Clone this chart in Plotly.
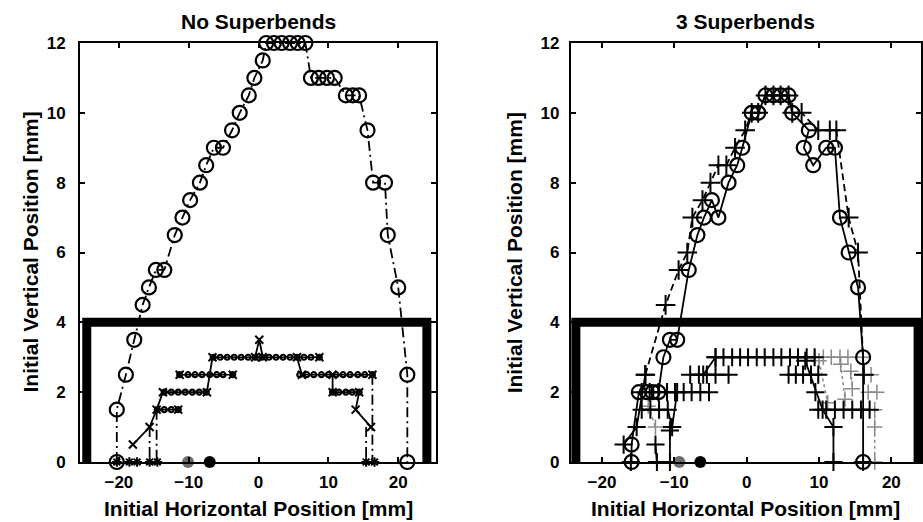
import plotly.graph_objects as go

# ---------------- data: left panel "No Superbends" ----------------
L_ARCH_X = [-20.3, -20.3, -19.0, -17.8, -16.6, -15.7, -14.7, -13.5, -12.0, -10.9,
            -9.8, -8.4, -7.5, -6.4, -5.1, -3.8, -2.7, -1.4, -0.6, 0.6,
            1.1, 2.2, 3.3, 4.5, 5.6, 6.7, 7.5, 8.6, 9.8, 10.9,
            12.5, 13.5, 14.4, 15.6, 16.4, 18.1, 18.5, 20.0, 21.3, 21.3]
L_ARCH_Y = [0, 1.5, 2.5, 3.5, 4.5, 5.0, 5.5, 5.5, 6.5, 7.0,
            7.5, 8.0, 8.5, 9.0, 9.0, 9.5, 10.0, 10.5, 11.0, 11.5,
            12, 12, 12, 12, 12, 12, 11, 11, 11, 11,
            10.5, 10.5, 10.5, 9.5, 8.0, 8.0, 6.5, 5.0, 2.5, 0]

# rows of small circles (None separates rows)
L_ROW_X = [-14.5, -13.5, -12.5, -11.5, None,
           -13.5, -12.5, -11.5, -10.5, -9.5, -8.5, -7.5, None,
           -11.3, -10.1, -9.1, -8.1, -7.0, -6.0, -5.1, -3.7, None,
           -6.5, -5.5, -4.5, -3.5, -2.5, -1.5, -0.5, 0.5, 1.5, 2.5, 3.5, 4.5, 5.5, 6.5, 7.5, 8.7, None,
           5.9, 6.9, 7.9, 9.0, 10.0, 11.1, 12.1, 13.1, 14.2, 15.2, 16.3, None,
           10.6, 11.5, 12.5, 13.4, 14.4]
L_ROW_Y = [1.5, 1.5, 1.5, 1.5, None,
           2.0, 2.0, 2.0, 2.0, 2.0, 2.0, 2.0, None,
           2.5, 2.5, 2.5, 2.5, 2.5, 2.5, 2.5, 2.5, None,
           3.0, 3.0, 3.0, 3.0, 3.0, 3.0, 3.0, 3.0, 3.0, 3.0, 3.0, 3.0, 3.0, 3.0, 3.0, 3.0, None,
           2.5, 2.5, 2.5, 2.5, 2.5, 2.5, 2.5, 2.5, 2.5, 2.5, 2.5, None,
           2.0, 2.0, 2.0, 2.0, 2.0]

# 'x' markers, solid connectors
L_X_X = [-18.0, -15.6, -14.6, -13.7, None, -11.5, None, -11.3, None,
         -7.4, -6.6, None, -3.7, None, -0.5, 0.1, 0.6, None, 8.7, None,
         5.5, 6.2, None, 10.6, 10.6, None, 16.3, None, 14.4, 13.9, 16.1]
L_X_Y = [0.5, 1.0, 1.5, 2.0, None, 1.5, None, 2.5, None,
         2.0, 3.0, None, 2.5, None, 3.0, 3.5, 3.0, None, 3.0, None,
         3.0, 2.5, None, 2.5, 2.0, None, 2.5, None, 2.0, 1.5, 1.0]

# dash-dot drops to the axis
L_DROP_X = [-15.6, -15.6, None, -14.6, -14.6, None, 16.3, 16.3, None, 15.4, 15.4]
L_DROP_Y = [1.0, 0, None, 1.5, 0, None, 2.5, 0, None, 1.0, 0]

L_BOT_X = [-20.3, -18.5, -17.4, -15.6, -14.5, 15.4, 16.6]
L_BOT_Y = [0, 0, 0, 0, 0, 0, 0]
L_DOT_X = [-10.1, -7.0]
L_DOT_Y = [0, 0]

# ---------------- data: right panel "3 Superbends" ----------------
R_ARCH_X = [-15.9, -15.9, -14.9, -13.8, -13.0, -12.2, -11.5, -10.6, -9.6, -8.0,
            -6.8, -5.9, -4.8, -3.9, -2.5, -1.3, -0.6, 0.7, 1.6, 2.6,
            3.7, 4.7, 5.8, 6.3, 8.6, 7.9, 9.2, 11.0, 12.2, 12.9,
            14.1, 15.4, 16.1, 16.1]
R_ARCH_Y = [0, 0.5, 2.0, 2.0, 2.0, 2.0, 3.0, 3.5, 3.5, 5.5,
            6.5, 7.0, 7.5, 7.0, 8.0, 8.5, 9.0, 10.0, 10.0, 10.5,
            10.5, 10.5, 10.5, 10.0, 9.5, 9.0, 8.5, 9.0, 9.0, 7.0,
            6.0, 5.0, 3.0, 0]

R_PLUS_X = [-14.0, -11.2, -9.4, -8.2, -7.5, -6.1, -5.0, -3.9, -2.8, -1.6,
            -0.2, 0.7, 1.6, 2.6, 3.7, 4.7, 5.8, 6.3, 7.6, 9.9,
            11.5, 12.4, 14.1, 15.4, 16.2]
R_PLUS_Y = [2.5, 4.5, 5.5, 6.0, 7.0, 7.5, 8.0, 8.5, 8.5, 9.0,
            9.5, 10.0, 10.0, 10.5, 10.5, 10.5, 10.5, 10.0, 10.0, 9.5,
            9.5, 9.5, 7.0, 6.0, 2.5]

R_LOW_X = [-17.0, -15.2, -14.0, None,
           -14.5, -13.4, -12.2, -11.0, -9.9, -8.7, -7.6, -6.4, -5.2, None,
           -14.5, -13.3, -12.1, -10.9, -10.3, -9.6, None,
           -7.8, -6.6, -5.5, -4.3, -2.5, None,
           -6.0, -4.3, None,
           -4.3, -3.2, -2.0, -0.9, 0.2, 1.4, 2.5, 3.7, 4.8, 6.0, 7.1, 8.3, 9.4, None,
           5.8, 6.8, 7.8, 8.9, 9.9, None,
           9.5, None,
           8.1, 10.5, 12.0, 12.0, None,
           9.9, 11.0, 12.2, 13.4, 14.6, 15.8, 17.0, None,
           -12.6, -12.4, None,
           -10.6, -10.6, None,
           -16.0, None, 16.1]
R_LOW_Y = [0.5, 1.0, 2.5, None,
           2.0, 2.0, 2.0, 2.0, 2.0, 2.0, 2.0, 2.0, 2.0, None,
           1.5, 1.5, 1.5, 1.5, 1.0, 2.0, None,
           2.5, 2.5, 2.5, 2.5, 2.5, None,
           2.5, 3.0, None,
           3.0, 3.0, 3.0, 3.0, 3.0, 3.0, 3.0, 3.0, 3.0, 3.0, 3.0, 3.0, 3.0, None,
           2.5, 2.5, 2.5, 2.5, 2.5, None,
           2.0, None,
           2.9, 1.5, 1.0, 0, None,
           1.5, 1.5, 1.5, 1.5, 1.5, 1.5, 1.5, None,
           0.5, 0, None,
           0.9, 0, None,
           0, None, 0]

R_GRAY_X = [9.4, 10.6, 11.7, 12.9, 14.0, 16.1, None,
            16.2, 17.2, None,
            16.8, 18.0, None,
            17.7, 17.7, 17.7, None,
            10.0, 11.2, None,
            13.0, 13.6, None,
            14.4, 14.6, None,
            -13.6, -12.6]
R_GRAY_Y = [3.0, 3.0, 3.0, 3.0, 3.0, 3.0, None,
            2.5, 2.5, None,
            2.0, 2.0, None,
            1.5, 1.0, 0, None,
            2.9, 1.7, None,
            2.8, 1.8, None,
            2.6, 2.1, None,
            1.6, 1.0]

R_DOT_X = [-9.3, -6.4]
R_DOT_Y = [0, 0]

TITLES = ["No Superbends", "3 Superbends"]
X_TITLE = "Initial Horizontal Position [mm]"
Y_TITLE = "Initial Vertical Position [mm]"
X_TICKS = [-20, -10, 0, 10, 20]
Y_TICKS = [0, 2, 4, 6, 8, 10, 12]

# rectangle (thick box) bounds per panel
L_BOX = (-24.6, 24.1, 4.0)
R_BOX = (-23.6, 23.7, 4.0)

BLACK = "#000000"
GRAY = "#8a8a8a"
FONT = "Liberation Sans, Arial, sans-serif"

fig = go.Figure()


def add(x, y, xa, ya, symbol, size, dash="solid", color=BLACK, lw=1.8, mlw=2.0, mode="lines+markers"):
    fig.add_trace(go.Scatter(
        x=x, y=y, xaxis=xa, yaxis=ya, mode=mode, cliponaxis=False,
        connectgaps=False, showlegend=False,
        line=dict(color=color, width=lw, dash=dash),
        marker=dict(symbol=symbol, size=size, color=color,
                    line=dict(color=color, width=mlw)),
    ))


DASHDOT = "10px,4px,2px,4px"

# left panel
add(L_DROP_X, L_DROP_Y, "x", "y", "circle", 1, dash=DASHDOT, mode="lines")
add(L_ROW_X, L_ROW_Y, "x", "y", "circle-open", 5, lw=1.6, mlw=2.2)
add(L_X_X, L_X_Y, "x", "y", "x-thin-open", 8, lw=1.8, mlw=2.0)
add(L_ARCH_X, L_ARCH_Y, "x", "y", "circle-open", 14, dash=DASHDOT, lw=1.8, mlw=2.2)
add(L_BOT_X, L_BOT_Y, "x", "y", "asterisk-open", 8, mode="markers", mlw=2.0)
fig.add_trace(go.Scatter(x=L_DOT_X, y=L_DOT_Y, xaxis="x", yaxis="y", mode="markers",
                         cliponaxis=False, showlegend=False,
                         marker=dict(size=12, color=["#6e6e6e", BLACK], line=dict(width=0))))

# right panel
add(R_GRAY_X, R_GRAY_Y, "x2", "y2", "cross-thin-open", 11, dash="dot", color=GRAY, lw=1.5, mlw=1.5)
add(R_LOW_X, R_LOW_Y, "x2", "y2", "cross-thin-open", 13, lw=1.8, mlw=2.0)
add(R_PLUS_X, R_PLUS_Y, "x2", "y2", "cross-thin-open", 14, dash="7px,4px", lw=1.8, mlw=2.0)
add(R_ARCH_X, R_ARCH_Y, "x2", "y2", "circle-open", 14, lw=1.8, mlw=2.2)
fig.add_trace(go.Scatter(x=R_DOT_X, y=R_DOT_Y, xaxis="x2", yaxis="y2", mode="markers",
                         cliponaxis=False, showlegend=False,
                         marker=dict(size=12, color=["#6e6e6e", BLACK], line=dict(width=0))))

# thick boxes
for (x0, x1, ytop), xr, yr in [(L_BOX, "x", "y"), (R_BOX, "x2", "y2")]:
    fig.add_shape(type="path", xref=xr, yref=yr,
                  path=f"M {x0},0 L {x0},{ytop} L {x1},{ytop} L {x1},0",
                  line=dict(color=BLACK, width=9), layer="above")

axis_common = dict(
    showline=True, linecolor=BLACK, linewidth=2, mirror="allticks",
    ticks="inside", ticklen=5, tickwidth=1.5, tickcolor=BLACK,
    showgrid=False, zeroline=False,
    tickfont=dict(family=FONT, size=17, color=BLACK, weight="bold"),
)

fig.update_layout(
    width=923, height=522,
    margin=dict(l=80, r=0, t=43, b=60),
    paper_bgcolor="white", plot_bgcolor="white",
    xaxis=dict(domain=[0, 0.4235], range=[-25.57, 25.43], tickvals=X_TICKS,
               anchor="y", ticklabelstandoff=4, **axis_common),
    yaxis=dict(domain=[0, 1], range=[0, 12], tickvals=Y_TICKS, anchor="x",
               ticklabelstandoff=9, **axis_common),
    xaxis2=dict(domain=[0.5836, 1.0], range=[-24.3, 24.1], tickvals=X_TICKS,
                anchor="y2", ticklabelstandoff=4, **axis_common),
    yaxis2=dict(domain=[0, 1], range=[0, 12], tickvals=Y_TICKS, anchor="x2",
                ticklabelstandoff=6, **axis_common),
)

ann_font = dict(family=FONT, size=21, color=BLACK, weight="bold")
for i, (xd, yd) in enumerate([("x domain", "y domain"), ("x2 domain", "y2 domain")]):
    fig.add_annotation(text=TITLES[i], xref=xd, yref=yd, x=0.5, y=1, xanchor="center",
                       yanchor="bottom", yshift=8, showarrow=False, font=ann_font)
    fig.add_annotation(text=X_TITLE, xref=xd, yref=yd, x=0.5, y=0, xanchor="center",
                       yanchor="top", yshift=-33, showarrow=False, font=ann_font)
    fig.add_annotation(text=Y_TITLE, xref=xd, yref=yd, x=0, y=0.5, xanchor="center",
                       yanchor="middle", xshift=-50 if i == 0 else -56, textangle=-90,
                       showarrow=False, font=ann_font)

fig.write_html("out.html")
